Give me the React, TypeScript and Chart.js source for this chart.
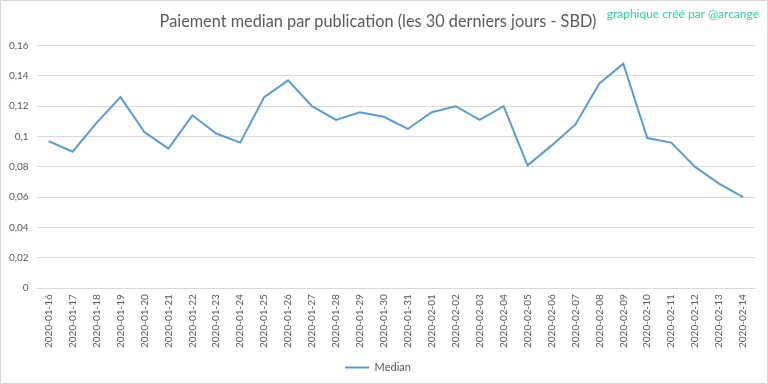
import React, { useEffect, useRef } from "react";
import { Chart, registerables } from "chart.js";

Chart.register(...registerables);

const dates: string[] = [
  "2020-01-16", "2020-01-17", "2020-01-18", "2020-01-19", "2020-01-20",
  "2020-01-21", "2020-01-22", "2020-01-23", "2020-01-24", "2020-01-25",
  "2020-01-26", "2020-01-27", "2020-01-28", "2020-01-29", "2020-01-30",
  "2020-01-31", "2020-02-01", "2020-02-02", "2020-02-03", "2020-02-04",
  "2020-02-05", "2020-02-06", "2020-02-07", "2020-02-08", "2020-02-09",
  "2020-02-10", "2020-02-11", "2020-02-12", "2020-02-13", "2020-02-14",
];

const median: number[] = [
  0.097, 0.090, 0.109, 0.126, 0.103,
  0.092, 0.114, 0.102, 0.096, 0.126,
  0.137, 0.120, 0.111, 0.116, 0.113,
  0.105, 0.116, 0.120, 0.111, 0.120,
  0.081, 0.094, 0.108, 0.135, 0.148,
  0.099, 0.096, 0.080, 0.069, 0.060,
];

const titleText = "Paiement median par publication (les 30 derniers jours - SBD)";
const watermarkText = "graphique créé par @arcange";
const seriesName = "Median";

const FONT = "Lato, 'Open Sans', sans-serif";

const watermarkPlugin = {
  id: "watermark",
  afterDraw(chart: any) {
    const ctx = chart.ctx;
    ctx.save();
    ctx.font = `12px ${FONT}`;
    ctx.fillStyle = "#2dd3a0";
    ctx.textAlign = "right";
    ctx.textBaseline = "middle";
    ctx.fillText(watermarkText, chart.width - 8, 13);
    ctx.restore();
  },
};

export default function App() {
  const canvasRef = useRef<HTMLCanvasElement | null>(null);

  useEffect(() => {
    document.body.style.margin = "0";
    const canvas = canvasRef.current;
    if (!canvas) return;
    const chart = new Chart(canvas, {
      type: "line",
      data: {
        labels: dates,
        datasets: [
          {
            label: seriesName,
            data: median,
            borderColor: "#5b9bd5",
            backgroundColor: "#5b9bd5",
            borderWidth: 2,
            pointRadius: 0,
            tension: 0,
            fill: false,
          },
        ],
      },
      options: {
        animation: false,
        responsive: true,
        maintainAspectRatio: false,
        layout: { padding: { left: 0, right: 12, top: 4, bottom: 0 } },
        plugins: {
          title: {
            display: true,
            text: titleText,
            color: "#595959",
            font: { family: FONT, size: 16.3, weight: "normal" },
            padding: { top: 7, bottom: 14 },
          },
          legend: {
            display: true,
            position: "bottom",
            labels: {
              color: "#595959",
              font: { family: FONT, size: 11 },
              usePointStyle: true,
              pointStyle: "line",
              pointStyleWidth: 24,
              padding: 8,
            },
          },
          tooltip: { enabled: false },
        },
        scales: {
          x: {
            offset: true,
            grid: { display: false, drawTicks: false },
            border: { display: true, color: "#d9d9d9" },
            ticks: {
              color: "#595959",
              font: { family: FONT, size: 10 },
              minRotation: 90,
              maxRotation: 90,
              autoSkip: false,
              padding: 6,
            },
          },
          y: {
            min: 0,
            max: 0.16,
            grid: { color: "#d9d9d9", drawTicks: false },
            border: { display: false },
            ticks: {
              stepSize: 0.02,
              color: "#595959",
              font: { family: FONT, size: 10 },
              padding: 8,
              callback: (v: any) => String(Math.round(Number(v) * 100) / 100).replace(".", ","),
            },
          },
        },
      },
      plugins: [watermarkPlugin],
    });
    return () => chart.destroy();
  }, []);

  return (
    <div
      style={{
        width: 768,
        height: 384,
        boxSizing: "border-box",
        border: "1px solid #d9d9d9",
        background: "#ffffff",
        position: "relative",
      }}
    >
      <canvas ref={canvasRef} />
    </div>
  );
}
